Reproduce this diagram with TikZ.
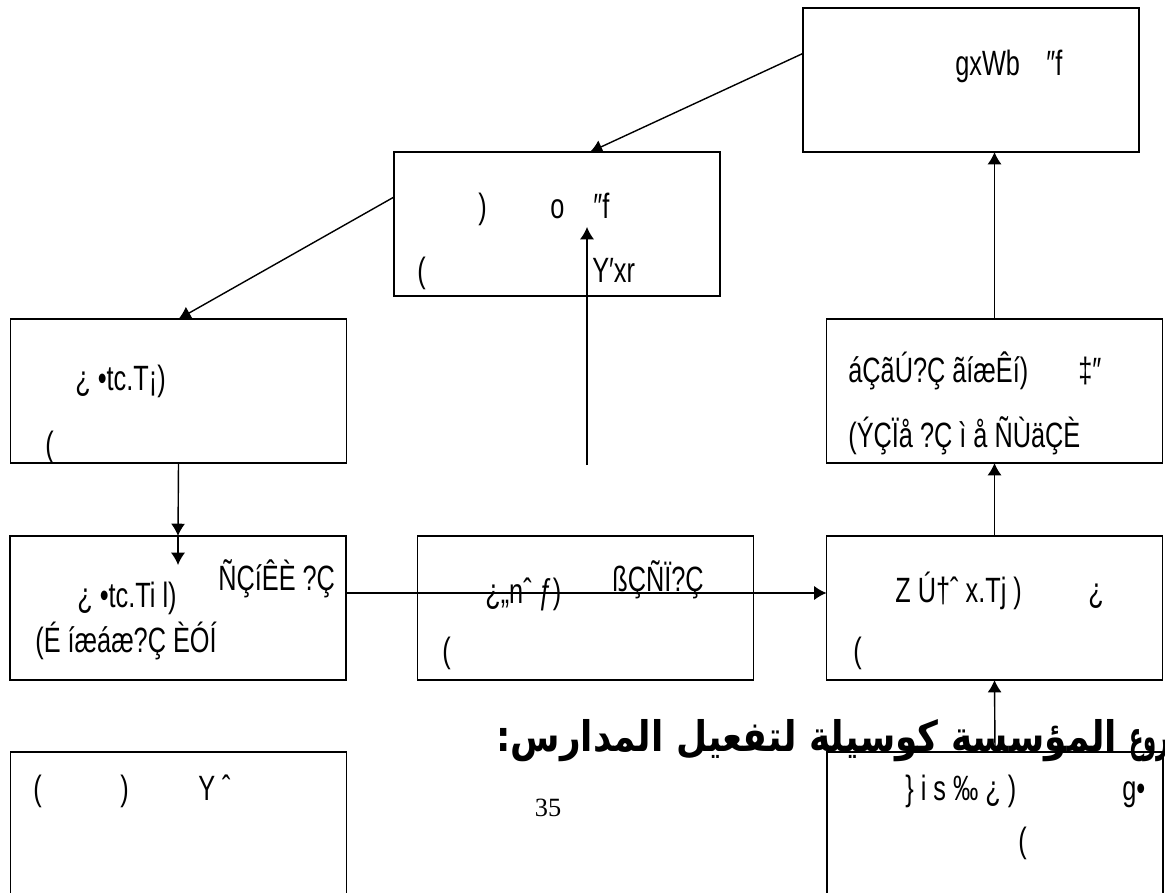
\documentclass[tikz,border=0pt]{standalone}
\usepackage{fontspec}
\usetikzlibrary{calc,arrows.meta}
\newfontfamily\garb[FakeStretch=0.72]{Liberation Sans}
\newfontfamily\arabicfont[Script=Arabic,FakeStretch=0.85]{DejaVu Sans}
\newfontfamily\arabictail[Script=Arabic,FakeStretch=0.5]{DejaVu Sans}
\newfontfamily\pagefont{Liberation Serif}
\TeXXeTstate=1

\begin{document}
\begin{tikzpicture}[x=0.02cm,y=-0.02cm,>={Latex[length=7pt,width=8pt]},
  box/.style={draw,line width=1pt,fill=white,inner sep=0pt,outer sep=0pt,
    minimum width=6.72cm,minimum height=2.88cm},
  lbl/.style={anchor=base west,inner sep=0pt,font=\garb\fontsize{20}{22}\selectfont},
  arr/.style={->,line width=0.8pt}]
  \useasboundingbox (0,0) rectangle (1165,892);

  \node[box] (tr) at (971,80) {};
  \node[box,minimum width=6.52cm] (mid) at (557,224) {};
  \node[box] (b3l) at (178.5,391) {};
  \node[box] (b3r) at (994.5,391) {};
  \node[box] (b4l) at (178,608) {};
  \node[box] (b4m) at (585.5,608) {};
  \node[box] (b4r) at (994.5,608) {};
  \node[box,minimum height=2.96cm] (b5l) at (178.5,826) {};
  \node[box,minimum height=2.96cm] (b5r) at (995,826) {};

  % heading, running along the top of the lower right box
  \node[anchor=base west,inner sep=0pt,
    font=\arabicfont\bfseries\fontsize{24}{28}\selectfont] (head) at (496,751)
    {\beginR{\arabictail\bfseries\beginL 3.2\endL{} ــ مشروع} المؤسسة كوسيلة لتفعيل المدارس:\endR};

  \node[font=\pagefont\fontsize{15}{18}\selectfont] (pg) at (548,808) {35};

  \node[lbl] (tra) at (955,75) {gxWb};
  \node[lbl] (trb) at (1046,75) {″f};
  \node[lbl] (mida) at (478,218) {)};
  \node[lbl] (midb) at (550,218) {o};
  \node[lbl] (midc) at (593,218) {″f};
  \node[lbl] (midd) at (417,282) {(};
  \node[lbl] (mide) at (592,282) {Y′xr};
  \node[lbl] (b3la) at (75,390) {¿ •tc.T¡)};
  \node[lbl] (b3lb) at (45,456) {(};
  \node[lbl] (b3ra) at (848,382) {áÇãÚ?Ç ãíæÊí)};
  \node[lbl] (b3rb) at (1078,382) {‡″};
  \node[lbl] (b3rc) at (848,447) {(ÝÇÏå ?Ç ì å ÑÙäÇÈ};
  \node[lbl] (b4la) at (77,607) {¿ •tc.Ti l)};
  \node[lbl] (b4lb) at (218,590) {ÑÇíÊÈ ?Ç};
  \node[lbl] (b4lc) at (35,652) {(É íæáæ?Ç ÈÓÍ};
  \node[lbl] (b4ma) at (485,603) {¿„nˆ ƒ)};
  \node[lbl] (b4mb) at (612,591) {ßÇÑÏ?Ç};
  \node[lbl] (b4mc) at (442,662) {(};
  \node[lbl] (b4ra) at (895,602) {Z Ú†ˆ x.Tj )};
  \node[lbl] (b4rb) at (1088,602) {¿};
  \node[lbl] (b4rc) at (853,662) {(};
  \node[lbl] (b5la) at (33,800) {(};
  \node[lbl] (b5lb) at (120,800) {)};
  \node[lbl] (b5lc) at (198,800) {Y ˆ};
  \node[lbl] (b5ra) at (905,800) {\} i s ‰ ¿ )};
  \node[lbl] (b5rb) at (1122,800) {g•};
  \node[lbl] (b5rc) at (1018,852) {(};

  \draw[arr] (tr.171) -- ($(mid.north)+(33,0)$);
  \draw[arr] ($(mid.west)+(0,-27)$) -- (b3l.north);
  \draw[arr] (b3l.south) -- (b4l.north);
  \draw[arr] (b4l.north) -- ($(b4l.north)+(0,29)$);
  \coordinate (up) at (587,465);
  \draw[arr] (up) -- ($(mid.south)+(30,-69)$);
  \draw[arr] ($(b4l.east)+(0,-15)$) -- ($(b4r.west)+(0,-15)$);
  \draw[arr] (b3r.north) -- (b3r.north |- tr.south);
  \draw[arr] (b4r.north) -- (b3r.south);
  \draw[arr] (b5r.north) -- (b4r.south);
\end{tikzpicture}
\end{document}
